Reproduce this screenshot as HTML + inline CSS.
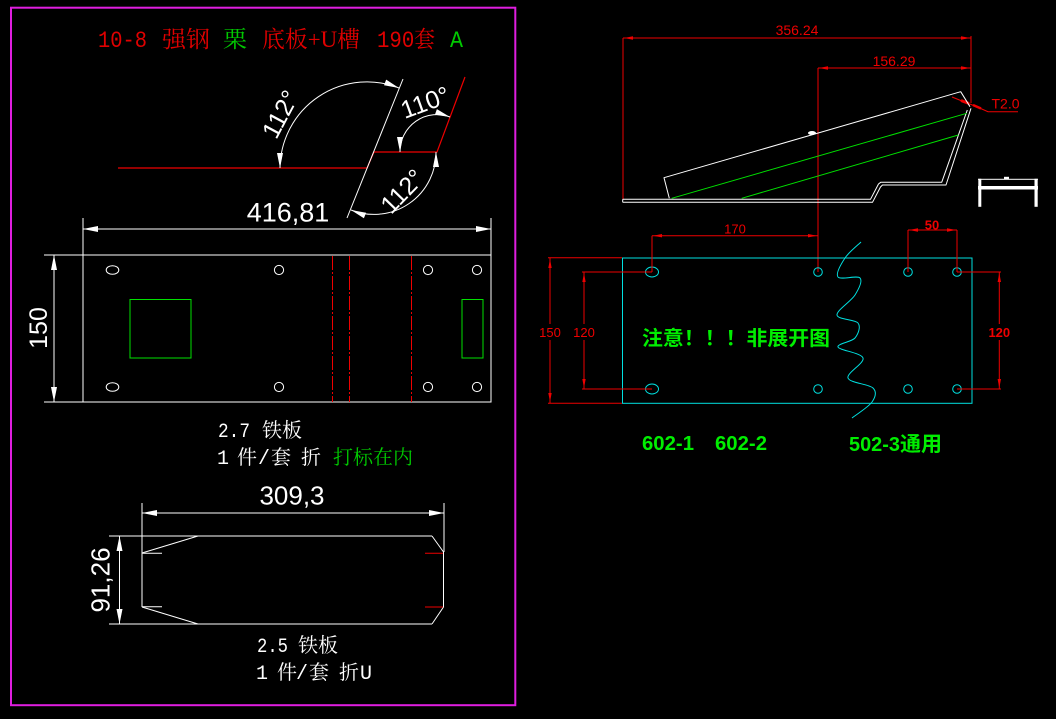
<!DOCTYPE html>
<html>
<head>
<meta charset="utf-8">
<style>
  html,body{margin:0;padding:0;background:#000;}
  svg{display:block;}
  .sans{font-family:"Liberation Sans","Noto Sans CJK SC",sans-serif;}
  .mono{font-family:"Liberation Mono","Noto Serif CJK SC",monospace;}
  .serifcjk{font-family:"Liberation Serif","Noto Serif CJK SC",serif;}
  .boldcjk{font-family:"Liberation Sans","Noto Sans CJK SC",sans-serif;font-weight:bold;}
</style>
</head>
<body>
<svg width="1056" height="719" viewBox="0 0 1056 719" xmlns="http://www.w3.org/2000/svg">
  <rect x="0" y="0" width="1056" height="719" fill="#000"/>

  <!-- magenta frame -->
  <rect x="11" y="7.7" width="504.3" height="697.5" fill="none" stroke="#e01ee0" stroke-width="2"/>

  <!-- ===== Title ===== -->
  <g class="mono" font-size="23">
    <text x="98" y="47" fill="#e00000" textLength="49" lengthAdjust="spacingAndGlyphs">10-8</text>
    <text x="162" y="47" fill="#e00000" class="serifcjk" textLength="48" lengthAdjust="spacingAndGlyphs">强钢</text>
    <text x="223" y="47" fill="#00c800" class="serifcjk" textLength="24" lengthAdjust="spacingAndGlyphs">栗</text>
    <text x="262" y="47" fill="#e00000" class="serifcjk" textLength="98" lengthAdjust="spacingAndGlyphs">底板+U槽</text>
    <text x="377" y="47" fill="#e00000" textLength="58" lengthAdjust="spacingAndGlyphs">190套</text>
    <text x="450" y="47" fill="#00c800" textLength="13" lengthAdjust="spacingAndGlyphs">A</text>
  </g>

  <!-- ===== Bend profile (top-left) ===== -->
  <g fill="none" stroke="#ee0000" stroke-width="1.2">
    <polyline points="118,168 367,168 374,152 437,152 465,77"/>
  </g>
  <line x1="403" y1="79" x2="347" y2="218" stroke="#fff" stroke-width="1"/>
  <!-- arcs -->
  <g fill="none" stroke="#fff" stroke-width="1">
    <path d="M 280 168 A 87 87 0 0 1 399 88"/>
    <path d="M 436 152 A 62 62 0 0 1 351 210"/>
    <path d="M 450 117 A 37 37 0 0 0 400 152"/>
  </g>
  <g fill="#fff">
    <polygon points="280,168 277,153 283,153"/>
    <polygon points="399,88 386.2,79.6 384,85.2"/>
    <polygon points="436,152 433,167 439,167"/>
    <polygon points="351,210 366.1,212.7 363.9,218.3"/>
    <polygon points="450,117 434.9,114.7 436.9,109.1"/>
    <polygon points="400,152 397,137 403,137"/>
  </g>
  <g class="sans" font-size="25" fill="#fff" text-anchor="middle">
    <text transform="translate(280,114) rotate(-62)" y="9">112°</text>
    <text transform="translate(425,102) rotate(-20)" y="9">110°</text>
    <text transform="translate(402,191) rotate(-46)" y="9">112°</text>
  </g>

  <!-- 416,81 dim -->
  <g stroke="#fff" stroke-width="1" fill="none">
    <line x1="83" y1="218" x2="83" y2="255"/>
    <line x1="491" y1="218" x2="491" y2="255"/>
    <line x1="83" y1="229" x2="491" y2="229"/>
  </g>
  <g fill="#fff">
    <polygon points="83,229 98,226 98,232"/>
    <polygon points="491,229 476,226 476,232"/>
  </g>
  <text class="sans" x="288" y="221.5" font-size="27" fill="#fff" text-anchor="middle">416,81</text>

  <!-- ===== Flat plate ===== -->
  <g stroke="#fff" stroke-width="1" fill="none">
    <rect x="83" y="255" width="408" height="147"/>
    <line x1="44" y1="255" x2="83" y2="255"/>
    <line x1="44" y1="402" x2="83" y2="402"/>
    <line x1="54" y1="255" x2="54" y2="402"/>
    <ellipse cx="112.5" cy="270" rx="6.3" ry="4.3"/>
    <ellipse cx="112.5" cy="387" rx="6.3" ry="4.3"/>
    <circle cx="279" cy="270" r="4.6"/>
    <circle cx="279" cy="387" r="4.6"/>
    <circle cx="428" cy="270" r="4.6"/>
    <circle cx="428" cy="387" r="4.6"/>
    <circle cx="477" cy="270" r="4.6"/>
    <circle cx="477" cy="387" r="4.6"/>
  </g>
  <g fill="#fff">
    <polygon points="54,255 51,270 57,270"/>
    <polygon points="54,402 51,387 57,387"/>
  </g>
  <text class="sans" transform="translate(38,328) rotate(-90)" y="9" font-size="25" fill="#fff" text-anchor="middle">150</text>
  <g stroke="#00e000" stroke-width="1" fill="none">
    <rect x="130" y="299.5" width="61" height="58.5"/>
    <rect x="462" y="299.5" width="21" height="58.5"/>
  </g>
  <g stroke="#ee0000" stroke-width="1" stroke-dasharray="14 2 2 2">
    <line x1="332.5" y1="256" x2="332.5" y2="402"/>
    <line x1="349.5" y1="256" x2="349.5" y2="402"/>
    <line x1="411.5" y1="256" x2="411.5" y2="402"/>
  </g>

  <!-- plate text -->
  <g font-size="20" fill="#fff">
    <text class="mono" x="218" y="437" textLength="32" lengthAdjust="spacingAndGlyphs">2.7</text>
    <text class="serifcjk" x="262" y="437" textLength="40" lengthAdjust="spacingAndGlyphs">铁板</text>
    <text class="mono" x="217" y="464">1</text>
    <text class="serifcjk" x="237" y="464">件</text>
    <text class="mono" x="258" y="464">/</text>
    <text class="serifcjk" x="271" y="464">套</text>
    <text class="serifcjk" x="301" y="464">折</text>
    <text class="serifcjk" x="333" y="464" fill="#00c800" textLength="80" lengthAdjust="spacingAndGlyphs">打标在内</text>
  </g>

  <!-- ===== U channel flat (bottom-left) ===== -->
  <g stroke="#fff" stroke-width="1" fill="none">
    <line x1="142" y1="503" x2="142" y2="607"/>
    <line x1="444" y1="503" x2="444" y2="552"/>
    <line x1="142" y1="513" x2="444" y2="513"/>
    <line x1="109" y1="536" x2="432" y2="536"/>
    <line x1="109" y1="624" x2="432" y2="624"/>
    <polyline points="432,536 443.5,552 443.5,607 432,624"/>
    <line x1="142" y1="553" x2="198" y2="536"/>
    <line x1="142" y1="607" x2="198" y2="624"/>
    <line x1="142" y1="553.3" x2="162" y2="553.3"/>
    <line x1="142" y1="606.7" x2="162" y2="606.7"/>
    <line x1="119.5" y1="536" x2="119.5" y2="624"/>
  </g>
  <g stroke="#ee0000" stroke-width="1">
    <line x1="425" y1="553.3" x2="443" y2="553.3"/>
    <line x1="425" y1="607" x2="443" y2="607"/>
  </g>
  <g fill="#fff">
    <polygon points="142,513 157,510 157,516"/>
    <polygon points="444,513 429,510 429,516"/>
    <polygon points="119.5,536 116.5,551 122.5,551"/>
    <polygon points="119.5,624 116.5,609 122.5,609"/>
  </g>
  <text class="sans" x="292" y="504.5" font-size="26" fill="#fff" text-anchor="middle">309,3</text>
  <text class="sans" transform="translate(100,580) rotate(-90)" y="9.3" font-size="26" fill="#fff" text-anchor="middle">91,26</text>

  <g font-size="20" fill="#fff">
    <text class="mono" x="257" y="652" textLength="31" lengthAdjust="spacingAndGlyphs">2.5</text>
    <text class="serifcjk" x="298" y="652" textLength="40" lengthAdjust="spacingAndGlyphs">铁板</text>
    <text class="mono" x="256" y="679">1</text>
    <text class="serifcjk" x="277" y="679">件</text>
    <text class="mono" x="296" y="679">/</text>
    <text class="serifcjk" x="309" y="679">套</text>
    <text class="serifcjk" x="339" y="679">折</text>
    <text class="mono" x="360" y="679">U</text>
  </g>

  <!-- ===== Right: side profile ===== -->
  <g stroke="#ee0000" stroke-width="1" fill="none">
    <line x1="623" y1="38" x2="971" y2="38"/>
    <line x1="623" y1="38" x2="623" y2="200"/>
    <line x1="971" y1="36" x2="971" y2="103"/>
    <line x1="818" y1="68" x2="971" y2="68"/>
    <line x1="818" y1="68" x2="818" y2="272"/>
  </g>
  <g fill="#ee0000">
    <polygon points="624,38 633,36.3 633,39.7"/>
    <polygon points="970,38 961,36.3 961,39.7"/>
    <polygon points="819,68 828,66.3 828,69.7"/>
    <polygon points="970,68 961,66.3 961,69.7"/>
  </g>
  <g class="sans" font-size="14" fill="#ee0000" text-anchor="middle">
    <text x="797" y="35">356.24</text>
    <text x="894" y="66">156.29</text>
  </g>
  <!-- T2.0 leader -->
  <g stroke="#ee0000" fill="none">
    <polyline points="952,97 962,101 975,106 988,111.7 1018,111.7" stroke-width="1"/>
    <line x1="961" y1="100.5" x2="969" y2="103.5" stroke-width="3"/>
    <line x1="973" y1="105" x2="981" y2="108.5" stroke-width="2.5"/>
  </g>
  <text class="sans" x="991.5" y="108.3" font-size="14" fill="#ee0000">T2.0</text>

  <!-- profile -->
  <g stroke="#fff" stroke-width="1" fill="none" stroke-linejoin="round">
    <polyline points="622.7,199.3 870.5,199.3 878.5,184 880.7,182.3 941.7,182.3 967.3,110"/>
    <polyline points="622.7,202.3 872.5,202.3 880.5,187 882.5,185 946,185 971,108.3"/>
    <line x1="622.7" y1="199.3" x2="622.7" y2="202.3"/>
    <polyline points="669.3,198.3 664,177.7 960.7,91.7 970,106.7"/>
  </g>
  <ellipse cx="812" cy="133" rx="4" ry="2" fill="#fff"/>
  <g stroke="#00e000" stroke-width="1">
    <line x1="671.7" y1="198.3" x2="966.7" y2="113.3"/>
    <line x1="741.7" y1="198.3" x2="958.3" y2="135"/>
  </g>

  <!-- small U icon -->
  <g fill="#fff">
    <rect x="978" y="178.8" width="60" height="1"/>
    <rect x="1004" y="176.8" width="5" height="2.5"/>
    <rect x="978" y="186" width="60" height="3.5"/>
    <rect x="978.3" y="178.8" width="3" height="28"/>
    <rect x="1034.5" y="178.8" width="3.2" height="28"/>
  </g>

  <!-- ===== Right: plan view ===== -->
  <g stroke="#00e0e0" stroke-width="1" fill="none">
    <rect x="622.5" y="258" width="349.5" height="145.3"/>
    <ellipse cx="652" cy="272" rx="6.5" ry="5"/>
    <ellipse cx="652" cy="389" rx="6.5" ry="5"/>
    <circle cx="818" cy="272" r="4.3"/>
    <circle cx="818" cy="389" r="4.3"/>
    <circle cx="908" cy="272" r="4.3"/>
    <circle cx="908" cy="389" r="4.3"/>
    <circle cx="957" cy="272" r="4.3"/>
    <circle cx="957" cy="389" r="4.3"/>
    <path d="M861,242 C858.3,244.7 848.8,252.2 845,258 C841.2,263.8 835.5,273.7 838,277 C840.5,280.3 857.2,275 860,278 C862.8,281 858.8,288.8 855,295 C851.2,301.2 836.5,310.3 837,315 C837.5,319.7 855,319.2 858,323 C861,326.8 858.3,334 855,338 C851.7,342 836.7,343.7 838,347 C839.3,350.3 861.3,352.8 863,358 C864.7,363.2 846.3,373 848,378 C849.7,383 869,384 873,388 C877,392 875.5,397 872,402 C868.5,407 855.3,415.3 852,418"/>
  </g>

  <!-- red dims on plan -->
  <g stroke="#ee0000" stroke-width="1" fill="none">
    <line x1="652" y1="235.7" x2="818" y2="235.7"/>
    <line x1="652" y1="235.7" x2="652" y2="272"/>
    <line x1="908" y1="230" x2="957" y2="230"/>
    <line x1="908" y1="230" x2="908" y2="272"/>
    <line x1="957" y1="230" x2="957" y2="272"/>
    <line x1="548" y1="257.7" x2="622" y2="257.7"/>
    <line x1="548" y1="403.3" x2="622" y2="403.3"/>
    <line x1="550" y1="258" x2="550" y2="324"/>
    <line x1="550" y1="340" x2="550" y2="403"/>
    <line x1="582" y1="272" x2="652" y2="272"/>
    <line x1="582" y1="389" x2="652" y2="389"/>
    <line x1="584" y1="272" x2="584" y2="324"/>
    <line x1="584" y1="340" x2="584" y2="389"/>
    <line x1="957" y1="272" x2="1001" y2="272"/>
    <line x1="957" y1="389" x2="1001" y2="389"/>
    <line x1="999.3" y1="272" x2="999.3" y2="324"/>
    <line x1="999.3" y1="340" x2="999.3" y2="389"/>
  </g>
  <g fill="#ee0000">
    <polygon points="653,235.7 662,234 662,237.4"/>
    <polygon points="817,235.7 808,234 808,237.4"/>
    <polygon points="909,230 918,228.3 918,231.7"/>
    <polygon points="956,230 947,228.3 947,231.7"/>
    <polygon points="550,259 548.3,268 551.7,268"/>
    <polygon points="550,402 548.3,393 551.7,393"/>
    <polygon points="584,273 582.3,282 585.7,282"/>
    <polygon points="584,388 582.3,379 585.7,379"/>
    <polygon points="999.3,273 997.6,282 1001,282"/>
    <polygon points="999.3,388 997.6,379 1001,379"/>
  </g>
  <g class="sans" font-size="13" fill="#ee0000" text-anchor="middle">
    <text x="735" y="233.5">170</text>
    <text x="932" y="229.5" font-weight="bold">50</text>
    <text x="550" y="337">150</text>
    <text x="584" y="337">120</text>
    <text x="999.3" y="337" font-weight="bold">120</text>
  </g>

  <!-- green notes -->
  <g class="boldcjk" fill="#00ee00">
    <text x="642" y="345" font-size="20" textLength="188" lengthAdjust="spacingAndGlyphs">注意！！！非展开图</text>
    <text x="642" y="450" font-size="20.5" textLength="52" lengthAdjust="spacingAndGlyphs">602-1</text>
    <text x="715" y="450" font-size="20.5" textLength="52" lengthAdjust="spacingAndGlyphs">602-2</text>
    <text x="849" y="451" font-size="20.5" textLength="51" lengthAdjust="spacingAndGlyphs">502-3</text>
    <text x="900" y="451" font-size="20.5" textLength="42" lengthAdjust="spacingAndGlyphs">通用</text>
  </g>
</svg>
</body>
</html>
